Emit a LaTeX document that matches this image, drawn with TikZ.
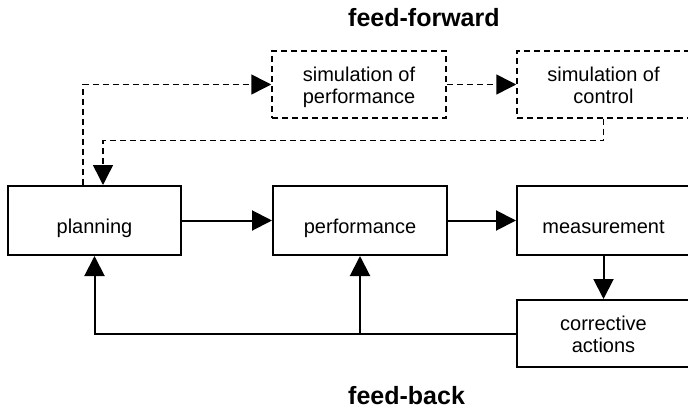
\documentclass[tikz,border=0pt]{standalone}
\usepackage{fontspec}
\setmainfont{Liberation Sans}
\usetikzlibrary{arrows.meta}
\begin{document}
\begin{tikzpicture}[x=1pt,y=-1pt,
  box/.style={draw,line width=2pt,minimum width=173pt,minimum height=69pt,inner sep=0pt,align=center,font=\fontsize{20}{22}\selectfont,text height=25pt,text depth=0pt},
  twoline/.style={text height=38pt,text depth=0pt},
  dbox/.style={box,twoline,line width=1.5pt,dash pattern=on 6pt off 4pt,minimum height=67pt},
  tip/.style={-{Triangle[length=20pt,width=20pt]}},
  solidline/.style={tip,line width=2pt},
  dline/.style={tip,line width=1.5pt,dash pattern=on 6pt off 4pt},
  title/.style={font=\fontsize{25}{28}\bfseries\selectfont,anchor=west,inner sep=0pt}]
\useasboundingbox (0,0) rectangle (688,409);
\clip (0,0) rectangle (688,409);
\node[box] (plan) at (94.5,220.5) {planning};
\node[box,minimum width=174pt] (perf) at (360,220.5) {performance};
\node[box] (meas) at (603.5,220.5) {measurement};
\node[box,twoline,minimum height=67pt] (corr) at (603.5,333.5) {corrective\\actions};
\node[dbox,minimum width=174pt] (simp) at (359,84.5) {simulation of\\performance};
\node[dbox] (simc) at (603.5,84.5) {simulation of\\control};
\node[title] (ff) at (348,18) {feed-forward};
\node[title] (fb) at (348,396) {feed-back};
\draw[solidline] (plan) -- (perf);
\draw[solidline] (perf) -- (meas);
\draw[solidline] (meas) -- (corr);
\draw[solidline] (corr.west) -| (plan.south);
\draw[solidline] (corr.west -| perf.south) -- (perf.south);
\draw[dline] ([xshift=-11.5pt]plan.north) |- (simp.west);
\draw[dline] (simp) -- (simc);
\draw[dline] (simc.south) -- ++(0,22) -| ([xshift=8.5pt]plan.north);
\end{tikzpicture}
\end{document}
